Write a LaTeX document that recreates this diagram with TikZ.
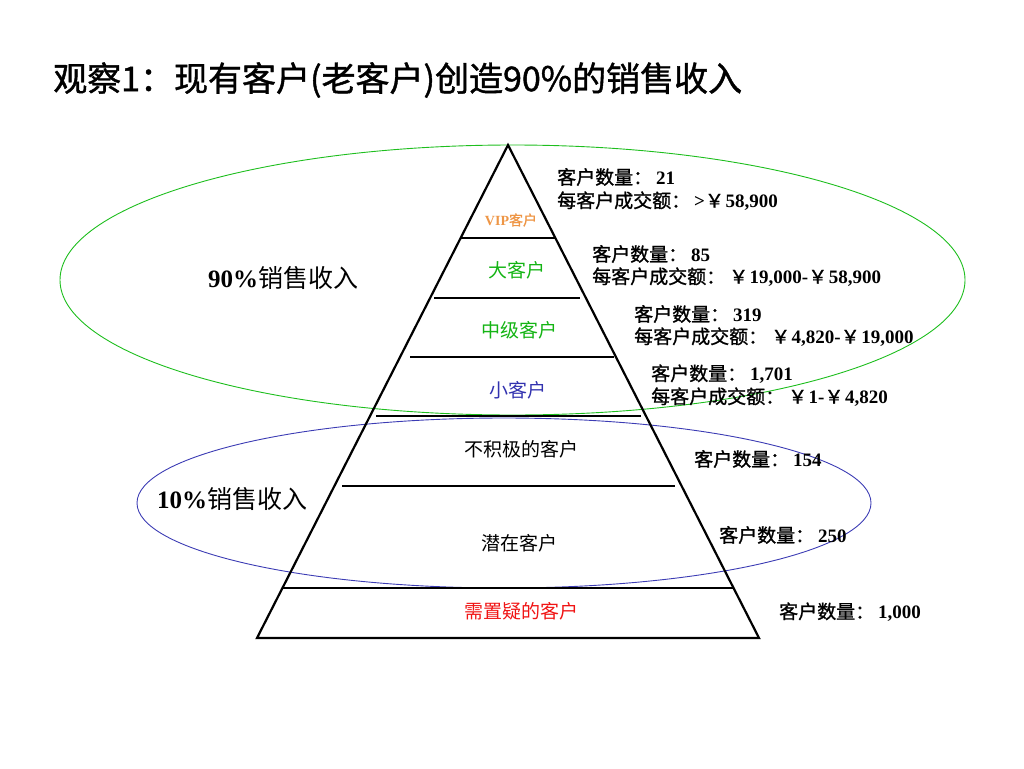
\documentclass[tikz,border=0pt]{standalone}
\usepackage{fontspec}
\setmainfont{Liberation Serif}
\newfontfamily\cjk{Noto Sans CJK SC}
\newfontfamily\cjkb[FakeBold=1.2]{Noto Sans CJK SC}
\newcommand\zh[1]{{\cjk #1}}
\newcommand\zb[1]{{\cjkb #1}}
\newcommand\nm[1]{\textbf{#1}}
\newcommand\cln{\zb{：}\hspace{4pt}}
\newcommand\yen{\zb{￥}\hspace{1.5pt}}
\definecolor{vipc}{RGB}{238,150,70}
\definecolor{greenc}{RGB}{20,180,20}
\definecolor{bluec}{RGB}{50,50,175}
\definecolor{redc}{RGB}{240,20,20}
\definecolor{ellg}{RGB}{30,190,30}
\definecolor{ellb}{RGB}{60,60,180}
\begin{document}
\begin{tikzpicture}[x=1pt,y=-1pt,
  level/.style={line width=2.2pt},
  info/.style={anchor=west, inner sep=0pt, font=\fontsize{19}{21}\selectfont},
  tier/.style={inner sep=0pt, font=\cjk\fontsize{19}{21}\selectfont},
  share/.style={inner sep=0pt, font=\fontsize{25}{27}\selectfont},
  ring/.style={line width=0.9pt}]
\useasboundingbox (0,0) rectangle (1024,768);

% title
\node[anchor=west, inner sep=0pt, font=\cjkb\fontsize{34}{36}\selectfont] (title) at (53,80) {观察1：现有客户(老客户)创造90\%的销售收入};

% ellipses
\draw[ring, ellg] (512.5,280) ellipse [x radius=452.5pt, y radius=135pt];
\draw[ring, ellb] (504,503) ellipse [x radius=367pt, y radius=85pt];

% pyramid
\coordinate (apex) at (508,145);
\coordinate (bl) at (257,638);
\coordinate (br) at (759,638);
\draw[level] (apex) -- (bl) -- (br) -- cycle;

\coordinate (a1) at (461,238); \coordinate (b1) at (556,238);
\coordinate (a2) at (434,298); \coordinate (b2) at (580,298);
\coordinate (a3) at (410,357); \coordinate (b3) at (614,357);
\coordinate (a4) at (376,416); \coordinate (b4) at (641,416);
\coordinate (a5) at (342,486); \coordinate (b5) at (675,486);
\coordinate (a6) at (283,588); \coordinate (b6) at (733,588);
\draw[level] (a1) -- (b1);
\draw[level] (a2) -- (b2);
\draw[level] (a3) -- (b3);
\draw[line width=2.8pt] (a4) -- (b4);
\draw[level] (a5) -- (b5);
\draw[level] (a6) -- (b6);

% tier labels
\node[inner sep=0pt, text=vipc, font=\fontsize{14}{16}\selectfont] (vip) at (511,220) {\textbf{VIP}\zb{客户}};
\node[tier, text=greenc] (big) at (517,270) {大客户};
\node[tier, text=greenc] (mid) at (519,330) {中级客户};
\node[tier, text=bluec] (small) at (518,390) {小客户};
\node[tier] (inactive) at (521,449) {不积极的客户};
\node[tier] (potential) at (519,543) {潜在客户};
\node[tier, text=redc] (doubt) at (521,611) {需置疑的客户};

% share labels
\node[share] (s90) at (283,278) {\nm{90\%}\zh{销售收入}};
\node[share] (s10) at (232,499) {\nm{10\%}\zh{销售收入}};

% info labels
\node[info] (i1a) at (557,177) {\zb{客户数量}\cln\nm{21}};
\node[info] (i1b) at (557,201) {\zb{每客户成交额}\cln\nm{>}\yen\nm{58,900}};
\node[info] (i2a) at (592,254) {\zb{客户数量}\cln\nm{85}};
\node[info] (i2b) at (592,277) {\zb{每客户成交额}\cln\yen\nm{19,000-}\yen\nm{58,900}};
\node[info] (i3a) at (634,314) {\zb{客户数量}\cln\nm{319}};
\node[info] (i3b) at (634,337) {\zb{每客户成交额}\cln\yen\nm{4,820-}\yen\nm{19,000}};
\node[info] (i4a) at (651,374) {\zb{客户数量}\cln\nm{1,701}};
\node[info] (i4b) at (651,397) {\zb{每客户成交额}\cln\yen\nm{1-}\yen\nm{4,820}};
\node[info] (i5) at (694,459) {\zb{客户数量}\cln\nm{154}};
\node[info] (i6) at (719,535) {\zb{客户数量}\cln\nm{250}};
\node[info] (i7) at (779,612) {\zb{客户数量}\cln\nm{1,000}};
\end{tikzpicture}
\end{document}
